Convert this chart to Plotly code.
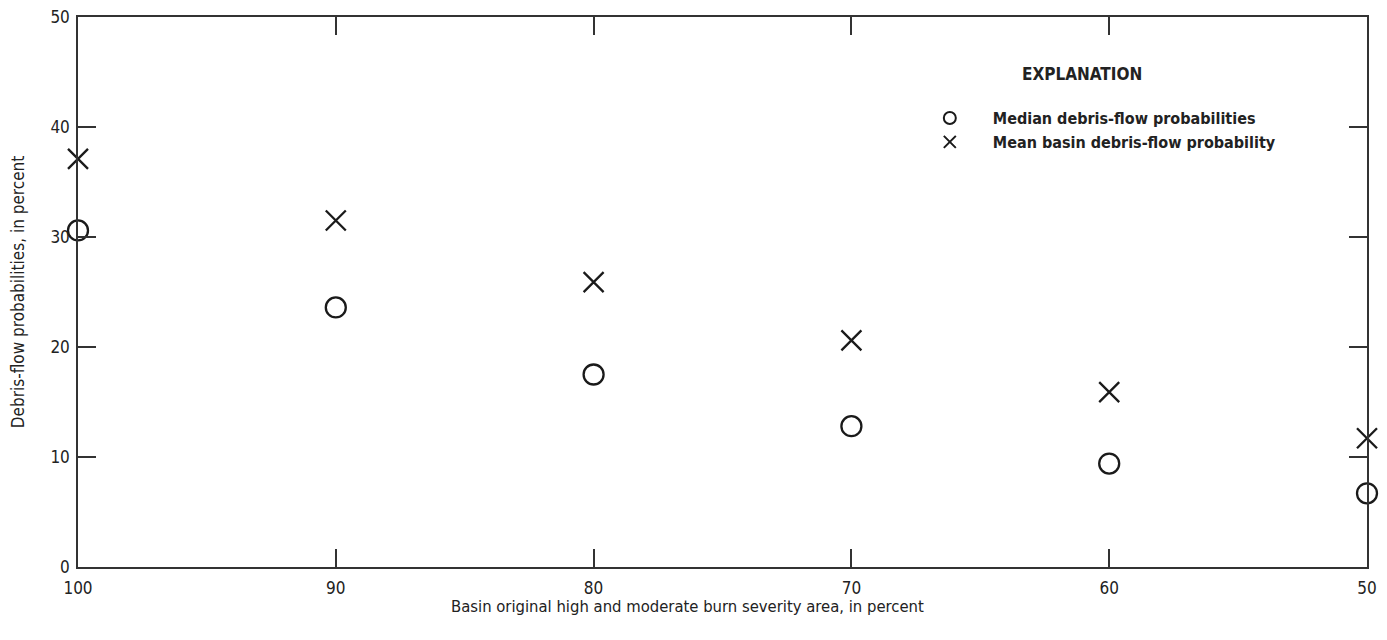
import plotly.graph_objects as go

burn_area = [100, 90, 80, 70, 60, 50]
median_prob = [30.6, 23.6, 17.5, 12.8, 9.4, 6.7]
mean_prob = [37.1, 31.5, 25.9, 20.6, 15.9, 11.7]
x_ticks = [100, 90, 80, 70, 60, 50]
y_ticks = [0, 10, 20, 30, 40, 50]

FONT = "Liberation Sans Narrow, DejaVu Sans Condensed, Arial Narrow, sans-serif"

fig = go.Figure()
fig.add_trace(go.Scatter(
    x=burn_area, y=median_prob, mode="markers",
    name="<b>Median debris-flow probabilities</b>",
    marker=dict(symbol="circle-open", size=20, color="#1a1a1a",
                line=dict(width=2.3, color="#1a1a1a")),
    cliponaxis=False,
))
fig.add_trace(go.Scatter(
    x=burn_area, y=mean_prob, mode="markers",
    name="<b>Mean basin debris-flow probability</b>",
    marker=dict(symbol="x-thin-open", size=20, color="#1a1a1a",
                line=dict(width=2.3, color="#1a1a1a")),
    cliponaxis=False,
))

axis_common = dict(
    showgrid=False, zeroline=False, showline=True, linecolor="#333333",
    linewidth=1.5, mirror="ticks", ticks="inside", ticklen=18,
    tickwidth=1.5, tickcolor="#333333", automargin=False,
    ticklabeloverflow="allow",
    tickfont=dict(family=FONT, size=17, color="#222222"),
)

fig.update_layout(
    width=1379, height=632,
    margin=dict(l=70, r=20, t=9, b=73),
    plot_bgcolor="white", paper_bgcolor="white",
    font=dict(family=FONT, color="#222222"),
    xaxis=dict(range=[100, 50], tickvals=x_ticks, ticktext=[str(v) for v in x_ticks],
               ticklabelstandoff=5,
               **axis_common),
    yaxis=dict(range=[0, 50], tickvals=y_ticks, ticktext=[str(v) for v in y_ticks],
               title=dict(text="Debris-flow probabilities, in percent",
                          font=dict(family=FONT, size=17, color="#222222"), standoff=24),
               ticklabelstandoff=3,
               **axis_common),
    showlegend=True,
    legend=dict(x=0.643, y=0.847, xanchor="left", yanchor="top",
                bgcolor="rgba(0,0,0,0)", borderwidth=0,
                font=dict(family=FONT, size=16, color="#222222"),
                tracegroupgap=0, itemsizing="constant", itemwidth=76),
    annotations=[
        dict(text="<b>EXPLANATION</b>", x=0.779, y=0.896, xref="paper", yref="paper",
             showarrow=False, xanchor="center", yanchor="middle",
             font=dict(family=FONT, size=17, color="#222222")),
        dict(text="Basin original high and moderate burn severity area, in percent",
             x=0.473, y=-0.0727, xref="paper", yref="paper", showarrow=False,
             xanchor="center", yanchor="middle",
             font=dict(family=FONT, size=16.5, color="#222222")),
    ],
)

fig.write_html("out.html")
